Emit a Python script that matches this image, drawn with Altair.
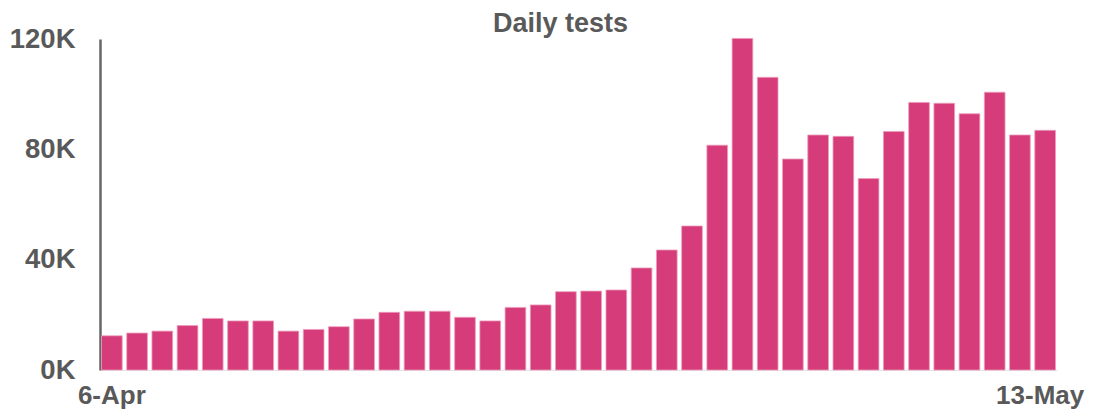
import altair as alt
import pandas as pd

days = ["6-Apr", "7-Apr", "8-Apr", "9-Apr", "10-Apr", "11-Apr", "12-Apr", "13-Apr",
        "14-Apr", "15-Apr", "16-Apr", "17-Apr", "18-Apr", "19-Apr", "20-Apr", "21-Apr",
        "22-Apr", "23-Apr", "24-Apr", "25-Apr", "26-Apr", "27-Apr", "28-Apr", "29-Apr",
        "30-Apr", "1-May", "2-May", "3-May", "4-May", "5-May", "6-May", "7-May",
        "8-May", "9-May", "10-May", "11-May", "12-May", "13-May"]
tests = [12400, 13400, 14100, 16100, 18700, 17800, 17800, 14100,
         14700, 15700, 18500, 20900, 21300, 21300, 19100, 17800,
         22700, 23600, 28400, 28600, 29000, 37000, 43500, 52200,
         81500, 120200, 106100, 76500, 85200, 84700, 69400, 86500,
         97000, 96700, 92900, 100700, 85200, 86900]
shown_labels = ["6-Apr", "13-May"]
y_ticks = [0, 40000, 80000, 120000]

df = pd.DataFrame({"day": days, "tests": tests})

grey = "#595959"

chart = alt.Chart(df).mark_bar(
    color="#D63B7A", stroke="#EC9DBD", strokeWidth=0.8
).encode(
    x=alt.X("day:N", sort=days,
            scale=alt.Scale(paddingInner=0.18, paddingOuter=0.06),
            axis=alt.Axis(title=None, values=shown_labels, ticks=False,
                          domain=True, domainColor="#E3E3E3", domainWidth=1,
                          labelAngle=0, labelFont="Liberation Sans",
                          labelFontSize=26, labelFontWeight="bold",
                          labelColor=grey, labelPadding=12, labelOverlap=False,
                          labelOffset=alt.condition("datum.value == '13-May'",
                                                    alt.value(-5), alt.value(0)))),
    y=alt.Y("tests:Q", scale=alt.Scale(domain=[0, 120000], nice=False),
            axis=alt.Axis(title=None, values=y_ticks, ticks=False, grid=False,
                          domain=True, domainColor="#666666", domainWidth=2.5,
                          labelExpr="datum.value/1000 + 'K'",
                          labelFont="Liberation Sans", labelFontSize=27.5,
                          labelFontWeight="bold", labelColor=grey,
                          labelPadding=25)),
).properties(
    width=957, height=331,
    title=alt.TitleParams("Daily tests", font="Liberation Sans", fontSize=27,
                          fontWeight="bold", color=grey, anchor="middle",
                          dx=-18, dy=19, offset=6),
    autosize=alt.AutoSizeParams(type="none"),
    padding={"left": 92, "top": 31, "right": 30, "bottom": 39},
).configure_view(stroke=None)

chart.save("out.html", embed_options={"renderer": "svg", "actions": False})
